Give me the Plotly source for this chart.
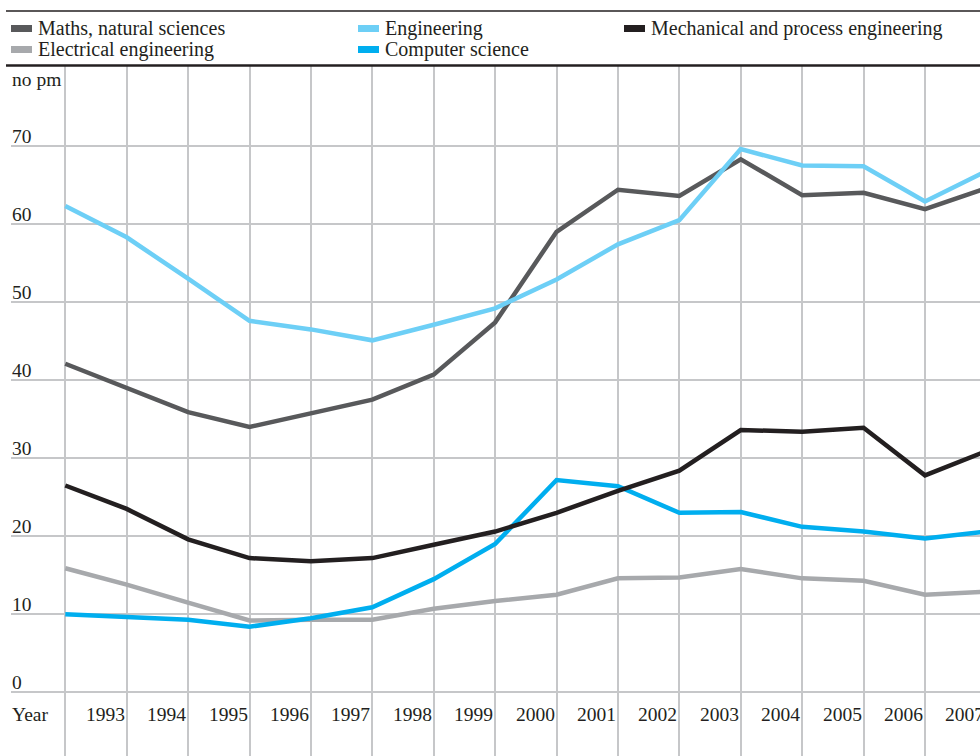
import plotly.graph_objects as go

years = list(range(1992, 2008))
maths = [42.1, 39.0, 35.9, 34.0, 35.7, 37.5, 40.7, 47.4, 59.0, 64.4, 63.6, 68.3, 63.7, 64.0, 61.9, 64.6]
engineering = [62.3, 58.3, 53.0, 47.6, 46.5, 45.1, 47.1, 49.2, 52.9, 57.4, 60.5, 69.6, 67.5, 67.4, 62.9, 66.8]
mechanical = [26.5, 23.5, 19.6, 17.2, 16.8, 17.2, 18.9, 20.6, 23.0, 25.8, 28.4, 33.6, 33.4, 33.9, 27.8, 30.9]
electrical = [15.9, 13.8, 11.5, 9.2, 9.3, 9.3, 10.7, 11.7, 12.5, 14.6, 14.7, 15.8, 14.6, 14.3, 12.5, 12.9]
computer = [10.0, 9.6, 9.3, 8.4, 9.5, 10.9, 14.5, 19.0, 27.2, 26.4, 23.0, 23.1, 21.2, 20.6, 19.7, 20.6]
y_ticks = [0, 10, 20, 30, 40, 50, 60, 70]
x_labels = [str(y) for y in range(1993, 2008)]

series = [
    ("Electrical engineering", electrical, "#a7a9ac"),
    ("Computer science", computer, "#00aeef"),
    ("Maths, natural sciences", maths, "#58595b"),
    ("Engineering", engineering, "#6dcff6"),
    ("Mechanical and process engineering", mechanical, "#231f20"),
]

FONT = "Liberation Serif, Times New Roman, serif"
TXT = "#231f20"
W, H = 980, 756
L, T = 11, 66
XR = [1991.116, 2006.896]

def px(x):
    return (x - L) / (W - L)

def py(y):
    return (H - y) / (H - T)

def xdata_to_paper(v):
    return (v - XR[0]) / (XR[1] - XR[0])

fig = go.Figure()
for name, vals, col in series:
    fig.add_trace(go.Scatter(x=years, y=vals, mode="lines", name=name,
                             line=dict(color=col, width=4.5), showlegend=False,
                             cliponaxis=True))

ann = []
for v in y_ticks:
    ann.append(dict(x=px(10), xref="paper", y=v, yref="y", text=str(v), showarrow=False,
                    xanchor="left", yanchor="bottom", yshift=-3,
                    font=dict(family=FONT, size=19.5, color=TXT)))
ann.append(dict(x=px(10), xref="paper", y=py(79), yref="paper", text="no pm", showarrow=False,
                xanchor="left", yanchor="middle", font=dict(family=FONT, size=19.5, color=TXT)))
ann.append(dict(x=px(10), xref="paper", y=py(714), yref="paper", text="Year", showarrow=False,
                xanchor="left", yanchor="middle", font=dict(family=FONT, size=19.5, color=TXT)))
for lab in x_labels:
    ann.append(dict(x=xdata_to_paper(int(lab)), xref="paper", y=py(714), yref="paper", text=lab,
                    showarrow=False, xanchor="right", yanchor="middle",
                    font=dict(family=FONT, size=19.5, color=TXT)))

legend_items = [
    ("Maths, natural sciences", "#58595b", 11, 28.5),
    ("Electrical engineering", "#a7a9ac", 11, 49.5),
    ("Engineering", "#6dcff6", 358, 28.5),
    ("Computer science", "#00aeef", 358, 49.5),
    ("Mechanical and process engineering", "#231f20", 624, 28.5),
]
shapes = []
for name, col, x0, yc in legend_items:
    shapes.append(dict(type="rect", xref="paper", yref="paper", x0=px(x0), x1=px(x0 + 21),
                       y0=py(yc + 3.5), y1=py(yc - 3.5), fillcolor=col, line=dict(width=0)))
    ann.append(dict(x=px(x0 + 25), xref="paper", y=py(yc), yref="paper", text=name, showarrow=False,
                    xanchor="left", yanchor="middle", font=dict(family=FONT, size=20, color=TXT)))

shapes.append(dict(type="line", xref="paper", yref="paper", x0=px(6), x1=1.01, y0=py(11), y1=py(11),
                   line=dict(color="#231f20", width=1.5)))
shapes.append(dict(type="line", xref="paper", yref="paper", x0=px(6), x1=1.01, y0=py(65.5), y1=py(65.5),
                   line=dict(color="#231f20", width=2.5)))

fig.update_layout(
    width=W, height=H,
    margin=dict(l=L, r=0, t=T, b=0),
    paper_bgcolor="white", plot_bgcolor="white",
    showlegend=False,
    xaxis=dict(range=XR, tickvals=years[:-1], showticklabels=False,
               showgrid=True, gridcolor="#c6c7c9", gridwidth=2, zeroline=False, showline=False,
               ticks=""),
    yaxis=dict(range=[-8.16, 80.25], tickvals=y_ticks, showticklabels=False,
               showgrid=True, gridcolor="#c6c7c9", gridwidth=2, zeroline=False, showline=False,
               ticks=""),
    annotations=ann, shapes=shapes,
)

fig.write_html("out.html", config={"displayModeBar": False},
               post_script="document.body.style.margin='0';document.body.style.overflow='hidden';")
